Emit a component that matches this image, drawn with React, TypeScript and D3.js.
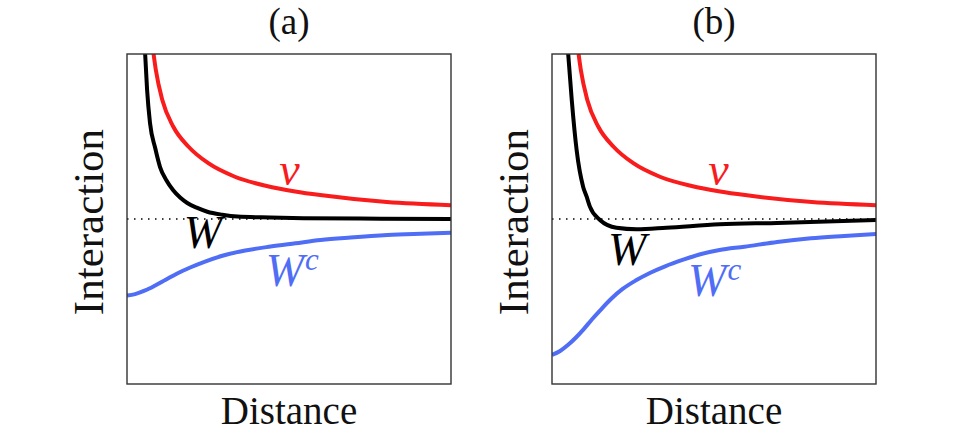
import * as d3 from "d3";

type Pt = [number, number];

// bare repulsion v(r), same in both panels
const vCurve: Pt[] = [
  [0.82, 1.0], [0.89, 0.903], [1.09, 0.721], [1.43, 0.559], [1.9, 0.438],
  [2.51, 0.338], [3.33, 0.256], [4.31, 0.2], [5.19, 0.167], [5.96, 0.145],
  [8.02, 0.103], [10, 0.084],
];

// panel (a): purely repulsive effective interaction
const wCurveA: Pt[] = [
  [0.56, 1.0], [0.62, 0.782], [0.71, 0.582], [0.87, 0.43], [1.02, 0.315],
  [1.21, 0.236], [1.42, 0.176], [1.64, 0.13], [1.86, 0.097], [2.17, 0.067],
  [2.48, 0.044], [2.94, 0.026], [3.41, 0.015], [4.43, 0.009], [5.45, 0.005],
  [7.83, 0.002], [10, 0],
];

const wcCurveA: Pt[] = [
  [0, -0.464], [0.25, -0.455], [0.56, -0.433], [0.87, -0.403], [1.18, -0.37],
  [1.55, -0.33], [1.95, -0.294], [2.41, -0.258], [3.03, -0.218],
  [3.65, -0.191], [4.43, -0.167], [5.2, -0.147], [5.98, -0.127],
  [6.9, -0.112], [8.04, -0.097], [9.07, -0.089], [10, -0.083],
];

// panel (b): effective interaction with an attractive well
const wCurveB: Pt[] = [
  [0.5, 1.0], [0.61, 0.721], [0.76, 0.418], [0.96, 0.196], [1.07, 0.135],
  [1.17, 0.075], [1.48, -0.006], [1.99, -0.053], [2.61, -0.062],
  [3.53, -0.053], [5.17, -0.032], [6.95, -0.024], [10, -0.006],
];

const wcCurveB: Pt[] = [
  [0, -0.824], [0.25, -0.8], [0.49, -0.764], [0.74, -0.718], [0.98, -0.667],
  [1.23, -0.609], [1.48, -0.555], [1.82, -0.485], [2.18, -0.424],
  [2.58, -0.373], [3.02, -0.327], [3.51, -0.285], [4.03, -0.248],
  [4.55, -0.215], [5.17, -0.188], [5.94, -0.168], [6.95, -0.139],
  [7.99, -0.117], [9.02, -0.103], [10, -0.091],
];

const panelTitles = ["(a)", "(b)"];
const xLabel = "Distance";
const yLabel = "Interaction";

// label anchor points (left edge, baseline) in data units
const vLabelPos: Pt[] = [[4.7, 0.206], [4.82, 0.206]];
const wLabelPos: Pt[] = [[1.75, -0.176], [1.73, -0.279]];
const wcLabelPos: Pt[] = [[4.28, -0.406], [4.2, -0.467]];

const RED = "#f81c1c";
const BLUE = "#4f6ef5";
const BLACK = "#000";

const W = 969;
const H = 438;
const boxTop = 54;
const boxH = 330;
const boxW = 324;
const boxLefts = [127, 552];
const serif = "'Liberation Serif', 'DejaVu Serif', serif";

const panels = [
  { title: panelTitles[0], w: wCurveA, wc: wcCurveA },
  { title: panelTitles[1], w: wCurveB, wc: wcCurveB },
];

function Panel({ idx }: { idx: number }) {
  const p = panels[idx];
  const left = boxLefts[idx];
  const x = d3.scaleLinear().domain([0, 10]).range([left, left + boxW]);
  const y = d3.scaleLinear().domain([-1, 1]).range([boxTop + boxH, boxTop]);
  const line = d3
    .line<Pt>()
    .x((d) => x(d[0]))
    .y((d) => y(d[1]))
    .curve(d3.curveMonotoneX);
  const clipId = `clip-${idx}`;
  const cx = left + boxW / 2;

  const series = [
    { data: vCurve, color: RED },
    { data: p.wc, color: BLUE },
    { data: p.w, color: BLACK },
  ];

  return (
    <g>
      <defs>
        <clipPath id={clipId}>
          <rect x={left} y={boxTop} width={boxW} height={boxH} />
        </clipPath>
      </defs>
      <text x={cx} y={34} fontSize={37} textAnchor="middle" fontFamily={serif} fill="#111">
        {p.title}
      </text>
      <line
        x1={x(0)}
        x2={x(10)}
        y1={y(0)}
        y2={y(0)}
        stroke="#000"
        strokeWidth={1.5}
        strokeDasharray="1.5 5.5"
      />
      <g clipPath={`url(#${clipId})`}>
        {series.map((s, i) => (
          <path
            key={i}
            d={line(s.data) ?? ""}
            fill="none"
            stroke={s.color}
            strokeWidth={4}
          />
        ))}
      </g>
      <rect
        x={left}
        y={boxTop}
        width={boxW}
        height={boxH}
        fill="none"
        stroke="#333"
        strokeWidth={1.4}
      />
      <g fontFamily={serif} fontStyle="italic" fontSize={46}>
        <text x={x(vLabelPos[idx][0])} y={y(vLabelPos[idx][1])} fill={RED}>
          v
        </text>
        <text x={x(wLabelPos[idx][0])} y={y(wLabelPos[idx][1])} fill={BLACK}>
          W
        </text>
        <text x={x(wcLabelPos[idx][0])} y={y(wcLabelPos[idx][1])} fill={BLUE}>
          W
          <tspan fontSize={31} dy={-16} dx={1}>
            c
          </tspan>
        </text>
      </g>
      <text x={cx} y={424} fontSize={39} textAnchor="middle" fontFamily={serif} fill="#111">
        {xLabel}
      </text>
      <text
        transform={`translate(${left - 24},${boxTop + boxH / 2 + 3}) rotate(-90)`}
        fontSize={43}
        textAnchor="middle"
        fontFamily={serif}
        fill="#111"
      >
        {yLabel}
      </text>
    </g>
  );
}

export default function App() {
  return (
    <div style={{ position: "absolute", left: 0, top: 0 }}>
      <svg width={W} height={H} style={{ display: "block", background: "#fff" }}>
        <Panel idx={0} />
        <Panel idx={1} />
      </svg>
    </div>
  );
}
